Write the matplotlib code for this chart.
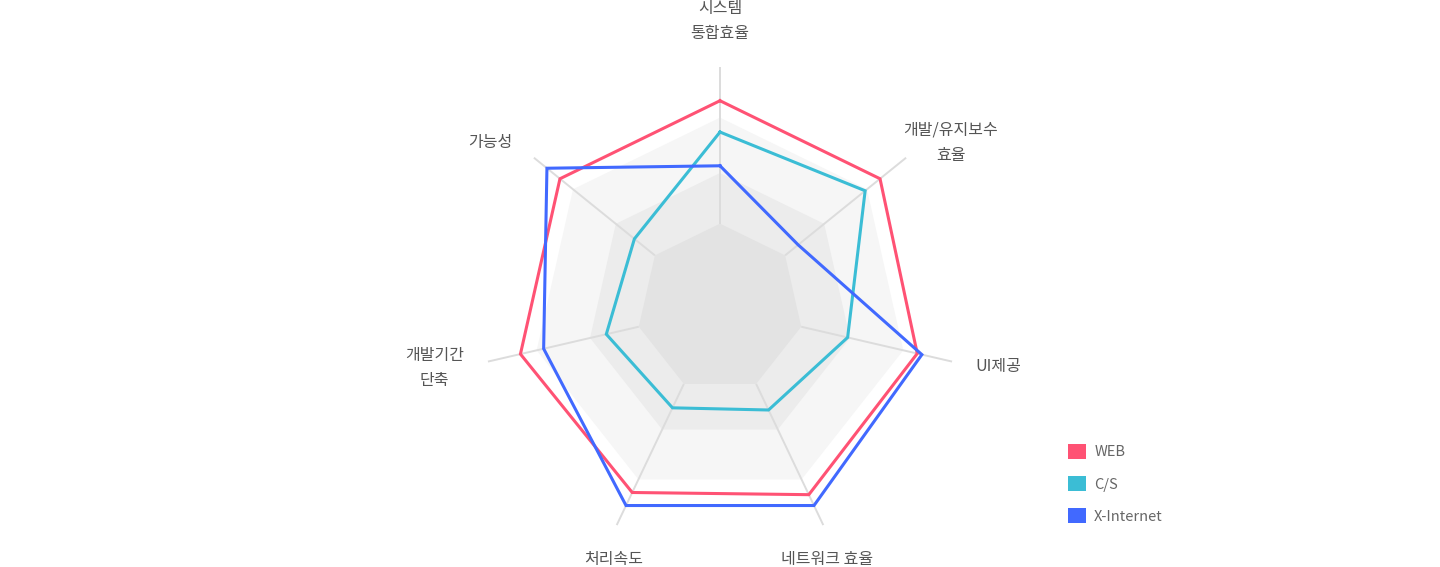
import numpy as np
import matplotlib
matplotlib.use('Agg')
import matplotlib.pyplot as plt
from matplotlib.patches import Polygon, Patch

plt.rcParams['font.family'] = ['Noto Sans CJK KR', 'DejaVu Sans']

# axes of the radar, clockwise from the top
AXIS_LABELS = ['시스템\n통합효율', '개발/유지보수\n효율', 'UI제공', '네트워크 효율',
               '처리속도', '개발기간\n단축', '가능성']
SERIES_NAMES = ['WEB', 'C/S', 'X-Internet']
WEB = [86, 86, 85, 86, 85, 86, 86]
CS = [73, 78, 55, 47, 46, 49, 46]
XINT = [59, 42, 87, 91, 91, 76, 93]
COLORS = ['#ff5274', '#3bbdd5', '#4169ff']

MAX_VALUE = 100
RING_LEVELS = [79, 56, 35]
RING_COLORS = ['#f6f6f6', '#ececec', '#e3e3e3']
LABEL_POS = [(0, 119), (97, 68.5), (117, -24.5), (45, -104.3),
             (-44.5, -104.3), (-120, -25), (-96.6, 68.5)]

n = len(AXIS_LABELS)
theta = np.arange(n) * 2 * np.pi / n
dx, dy = np.sin(theta), np.cos(theta)


def to_xy(vals):
    v = np.broadcast_to(np.asarray(vals, float), (n,))
    return np.column_stack([v * dx, v * dy])


fig = plt.figure(figsize=(14.4, 5.67), dpi=100)
ax = fig.add_axes([0, 0, 1, 1])
ax.set_xlim(-302.5, 302.5)
ax.set_ylim(-107.5, 127.8)
ax.axis('off')

# split areas
for lvl, col in zip(RING_LEVELS, RING_COLORS):
    ax.add_patch(Polygon(to_xy(lvl), closed=True, facecolor=col, edgecolor='none', zorder=1))

# spokes (hidden inside the innermost area)
inner = to_xy(RING_LEVELS[-1])
outer = to_xy(MAX_VALUE)
for (x0, y0), (x1, y1) in zip(inner, outer):
    ax.plot([x0, x1], [y0, y1], color='#dcdcdc', lw=1.4, zorder=2, solid_capstyle='butt')

for vals, col in zip([WEB, CS, XINT], COLORS):
    pts = to_xy(vals)
    pts = np.vstack([pts, pts[:1]])
    ax.plot(pts[:, 0], pts[:, 1], color=col, lw=2.2, zorder=3, solid_joinstyle='miter')

for lab, (x, y) in zip(AXIS_LABELS, LABEL_POS):
    ax.text(x, y, lab, ha='center', va='center', fontsize=11.5, color='#555555',
            linespacing=1.6, multialignment='center', clip_on=False)

handles = [Patch(facecolor=c, edgecolor='none', label=s) for c, s in zip(COLORS, SERIES_NAMES)]
ax.legend(handles=handles, loc='upper left', bbox_to_anchor=(1068 / 1440, 1 - 444 / 567),
          frameon=False, fontsize=10.5, handlelength=1.2, handleheight=1.2,
          handletextpad=0.6, labelspacing=1.15, borderpad=0, borderaxespad=0,
          labelcolor='#666666')

fig.savefig('out.png', dpi=100)
